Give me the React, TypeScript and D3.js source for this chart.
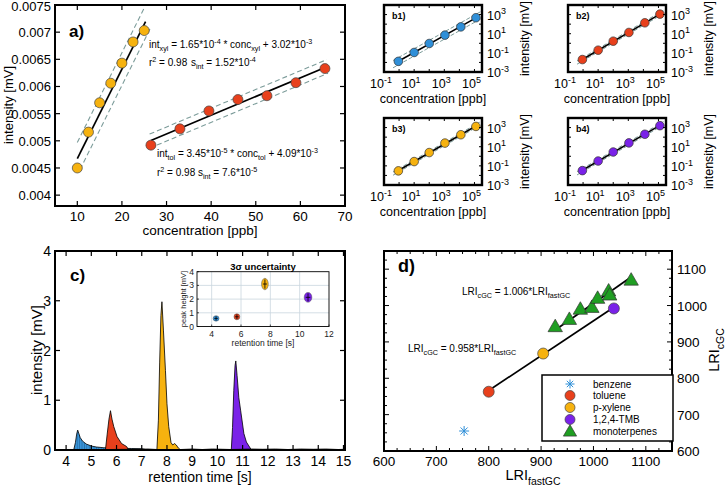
import React from 'react';
import * as d3 from 'd3';

const FONT = "'Liberation Sans', Arial, Helvetica, sans-serif";

const C_YEL = '#f6b20f';
const C_RED = '#e8401c';
const C_BLU = '#2f8fd8';
const C_PUR = '#7a22e8';
const C_GRN = '#1f9e22';
const C_DASH = '#7c9c9a';

// ---------- panel a ----------
const xylConc = [10, 12.5, 15, 17.5, 20, 22.5, 25];
const xylInt = [0.0045, 0.00516, 0.0057, 0.00606, 0.00643, 0.00682, 0.00703];
const tolConc = [26.5, 33, 39.5, 46, 52.5, 59, 65.5];
const tolInt = [0.00492, 0.00522, 0.00555, 0.00576, 0.00583, 0.00607, 0.00633];
const xylFit = { slope: 1.65e-4, icpt: 3.02e-3, band: 3.0e-4 };
const tolFit = { slope: 3.45e-5, icpt: 4.09e-3, band: 1.3e-4 };
const aXTicks = [10, 20, 30, 40, 50, 60, 70];
const aYTicks = [0.004, 0.0045, 0.005, 0.0055, 0.006, 0.0065, 0.007, 0.0075];
const aYTickLabels = ['0.004', '0.0045', '0.005', '0.0055', '0.006', '0.0065', '0.007', '0.0075'];

// ---------- panel b ----------
const bConc = [0.9, 10, 100, 1100, 12500, 125000];
const b1Int = [0.013, 0.11, 0.95, 7.1, 52, 470];
const b2Int = [0.02, 0.19, 1.66, 13.5, 138, 1120];
const b3Int = [0.03, 0.28, 2.45, 24, 178, 1320];
const b4Int = [0.032, 0.32, 2.8, 25, 200, 1580];
const bBands = [0.38, 0.17, 0.17, 0.17];
const bXTickExp = [-1, 1, 3, 5];
const bYTickExp = [-3, -1, 1, 3];

// ---------- panel c ----------
const benzT = [4.3, 4.37, 4.42, 4.46, 4.5, 4.56, 4.65, 4.8, 5.0, 5.2, 5.5, 5.8, 6.2, 6.6, 7.0, 7.25];
const benzI = [0, 0.15, 0.32, 0.4, 0.34, 0.25, 0.18, 0.12, 0.08, 0.06, 0.045, 0.04, 0.035, 0.03, 0.025, 0];
const tolT = [5.56, 5.63, 5.7, 5.76, 5.82, 5.89, 6.02, 6.2, 6.4, 6.48];
const tolI = [0, 0.32, 0.62, 0.79, 0.62, 0.47, 0.27, 0.13, 0.07, 0];
const xylT = [7.6, 7.66, 7.71, 7.76, 7.8, 7.86, 7.94, 8.0, 8.07, 8.16, 8.23, 8.3, 8.37, 8.45, 8.55];
const xylI = [0, 0.6, 1.75, 2.7, 2.98, 2.41, 1.6, 0.93, 0.47, 0.15, 0.1, 0.13, 0.1, 0.04, 0];
const tmbT = [10.55, 10.6, 10.65, 10.7, 10.73, 10.78, 10.85, 10.92, 11.05, 11.15, 11.25, 11.35];
const tmbI = [0, 0.45, 1.2, 1.7, 1.79, 1.5, 1.05, 0.8, 0.33, 0.16, 0.08, 0];
const baseT = [3.6, 4.3, 7.25, 7.6, 8.55, 9.0, 9.4, 9.8, 10.2, 10.55, 11.35, 11.8, 12.3, 12.8, 13.3, 13.8, 14.3, 14.8, 15.06];
const baseI = [0, 0, 0.02, 0.01, 0.01, 0.02, 0.01, 0.02, 0.015, 0.01, 0.02, 0.015, 0.02, 0.01, 0.02, 0.015, 0.02, 0.01, 0.015];
const cXTicks = [4, 5, 6, 7, 8, 9, 10, 11, 12, 13, 14, 15];
const cYTicks = [0, 1, 2, 3, 4];

const insetT = [4.3, 5.72, 7.63, 10.57];
const insetH = [0.59, 0.71, 3.1, 2.13];
const insetSigT = [0.2, 0.2, 0.23, 0.26];
const insetSigH = [0.2, 0.22, 0.42, 0.36];
const insetXTicks = [4, 6, 8, 10, 12];
const insetYTicks = [0, 1, 2, 3, 4];

// ---------- panel d ----------
const benzLRI = [753, 655];
const tolLRI = [800, 763];
const xylLRI = [904, 868];
const tmbLRI = [1039, 992];
const monoFast = [927, 954, 975, 997, 1008, 1029, 1031, 1072];
const monoCGC = [942, 962, 990, 995, 1020, 1040, 1029, 1070];
const fitMono = { slope: 1.006, from: 927, to: 1070 };
const fitArom = { slope: 0.958, from: 800, to: 1039 };
const dTicks = [600, 700, 800, 900, 1000, 1100];
const legendNames = ['benzene', 'toluene', 'p-xylene', '1,2,4-TMB', 'monoterpenes'];

type Part = [string, 'n' | 'sub' | 'sup'];

function Rich(props: { x: number; y: number; parts: Part[]; fs: number; anchor?: string; weight?: string; transform?: string }) {
  const { x, y, parts, fs, anchor = 'start', weight = 'normal', transform } = props;
  let off = 0;
  const spans = parts.map(([t, k], i) => {
    const target = k === 'sub' ? fs * 0.32 : k === 'sup' ? -fs * 0.42 : 0;
    const dy = target - off;
    off = target;
    const size = k === 'n' ? fs : fs * 0.72;
    return (
      <tspan key={i} dy={dy} fontSize={size}>
        {t}
      </tspan>
    );
  });
  return (
    <text x={x} y={y} fontSize={fs} textAnchor={anchor as any} fontFamily={FONT} fontWeight={weight} transform={transform} style={{ whiteSpace: 'pre' }}>
      {spans}
    </text>
  );
}

function linReg(xs: number[], ys: number[]) {
  const mx = d3.mean(xs)!;
  const my = d3.mean(ys)!;
  let num = 0, den = 0;
  xs.forEach((x, i) => { num += (x - mx) * (ys[i] - my); den += (x - mx) * (x - mx); });
  const slope = num / den;
  return { slope, icpt: my - slope * mx };
}

function PanelB({ x0, y0, ints, color, label, band, id }: { x0: number; y0: number; ints: number[]; color: string; label: string; band: number; id: string }) {
  const w = 98, h = 67;
  const x = d3.scaleLog().domain([0.1, Math.pow(10, 5.5)]).range([x0, x0 + w]);
  const y = d3.scaleLog().domain([1e-3, 1e4]).range([y0 + h, y0]);
  const lx = bConc.map(Math.log10);
  const ly = ints.map(Math.log10);
  const fit = linReg(lx, ly);
  const seg = (a: number, b: number, off: number) => {
    const pts: [number, number][] = [a, b].map((l) => [x(Math.pow(10, l)), y(Math.pow(10, fit.slope * l + fit.icpt + off))]);
    return d3.line()(pts)!;
  };
  const decX = d3.range(-1, 6);
  const decY = d3.range(-3, 5);
  return (
    <g>
      <defs>
        <clipPath id={id}>
          <rect x={x0} y={y0} width={w} height={h} />
        </clipPath>
      </defs>
      <g clipPath={`url(#${id})`}>
        <path d={seg(-0.4, 5.4, band)} stroke={C_DASH} strokeDasharray="4,2" fill="none" strokeWidth={1} />
        <path d={seg(-0.4, 5.4, -band)} stroke={C_DASH} strokeDasharray="4,2" fill="none" strokeWidth={1} />
        <path d={seg(lx[0], lx[lx.length - 1], 0)} stroke="#000" fill="none" strokeWidth={1.6} />
      </g>
      {bConc.map((c, i) => (
        <circle key={i} cx={x(c)} cy={y(ints[i])} r={4.3} fill={color} stroke="#333" strokeWidth={0.7} />
      ))}
      {decX.map((e) => (
        <g key={'tx' + e}>
          <line x1={x(Math.pow(10, e))} x2={x(Math.pow(10, e))} y1={y0 + h} y2={y0 + h - 3} stroke="#000" />
          <line x1={x(Math.pow(10, e))} x2={x(Math.pow(10, e))} y1={y0} y2={y0 + 3} stroke="#000" />
        </g>
      ))}
      {decY.map((e) => (
        <g key={'ty' + e}>
          <line x1={x0} x2={x0 + 3} y1={y(Math.pow(10, e))} y2={y(Math.pow(10, e))} stroke="#000" />
          <line x1={x0 + w} x2={x0 + w - 3} y1={y(Math.pow(10, e))} y2={y(Math.pow(10, e))} stroke="#000" />
        </g>
      ))}
      <rect x={x0} y={y0} width={w} height={h} fill="none" stroke="#000" strokeWidth={2.4} />
      <text x={x0 + 8} y={y0 + 14} fontSize={9} fontWeight="bold" fontFamily={FONT}>{label}</text>
      {bXTickExp.map((e) => (
        <Rich key={'lx' + e} x={x(Math.pow(10, e)) - 3} y={y0 + h + 16} fs={12.5} anchor="middle" parts={[['10', 'n'], [String(e), 'sup']]} />
      ))}
      {bYTickExp.map((e) => (
        <Rich key={'ly' + e} x={x0 + w + 5} y={y(Math.pow(10, e)) + 5} fs={12.5} parts={[['10', 'n'], [String(e), 'sup']]} />
      ))}
      <text x={x0 + w / 2} y={y0 + h + 31} fontSize={12.5} textAnchor="middle" fontFamily={FONT}>concentration [ppb]</text>
      <text transform={`translate(${x0 + w + 47},${y0 + h / 2}) rotate(-90)`} fontSize={12.5} textAnchor="middle" fontFamily={FONT}>intensity [mV]</text>
    </g>
  );
}

export default function App() {
  // panel a scales
  const xA = d3.scaleLinear().domain([5, 70]).range([55, 345]);
  const yA = d3.scaleLinear().domain([0.0038, 0.0075]).range([206, 5]);
  const fitSeg = (f: { slope: number; icpt: number }, a: number, b: number, off: number) =>
    d3.line()([[xA(a), yA(f.slope * a + f.icpt + off)], [xA(b), yA(f.slope * b + f.icpt + off)]])!;

  // panel c scales
  const xC = d3.scaleLinear().domain([3.56, 15.06]).range([55, 345]);
  const yC = d3.scaleLinear().domain([0, 4]).range([450, 251]);
  const area = (ts: number[], is: number[]) =>
    d3.area<number>().x((_, i) => xC(ts[i])).y0(yC(0)).y1((_, i) => yC(is[i]))(ts)!;
  const lineC = (ts: number[], is: number[]) =>
    d3.line<number>().x((_, i) => xC(ts[i])).y((_, i) => yC(is[i]))(ts)!;
  const xI = d3.scaleLinear().domain([3, 12]).range([197, 329]);
  const yI = d3.scaleLinear().domain([0, 4]).range([326.5, 271.7]);
  const insetCols = [C_BLU, C_RED, C_YEL, C_PUR];

  // panel d scales
  const xD = d3.scaleLinear().domain([600, 1150]).range([384, 672]);
  const yD = d3.scaleLinear().domain([600, 1150]).range([451, 251]);
  const tri = (cx: number, cy: number, s: number) =>
    `M${cx},${cy - s * 0.62} L${cx + s * 0.6},${cy + s * 0.42} L${cx - s * 0.6},${cy + s * 0.42} Z`;
  const star = (cx: number, cy: number, r: number, key: string) => (
    <g key={key} stroke={C_BLU} strokeWidth={1}>
      {[0, 45, 90, 135].map((a) => {
        const rad = (a * Math.PI) / 180;
        return <line key={a} x1={cx - r * Math.cos(rad)} y1={cy - r * Math.sin(rad)} x2={cx + r * Math.cos(rad)} y2={cy + r * Math.sin(rad)} />;
      })}
    </g>
  );
  const dMinor = d3.range(600, 1151, 25);

  return (
    <svg width={726} height={488} style={{ position: 'absolute', left: 0, top: 0, background: '#fff' }} fontFamily={FONT}>
      <defs>
        <pattern id="hatch" width={2.4} height={4} patternUnits="userSpaceOnUse">
          <rect width={2.4} height={4} fill="#3a95d8" />
          <line x1={0.3} y1={0} x2={0.3} y2={4} stroke="#1b5486" strokeWidth={0.6} />
        </pattern>
        <clipPath id="clipA"><rect x={55} y={5} width={290} height={201} /></clipPath>
      </defs>

      {/* ================= panel a ================= */}
      <g clipPath="url(#clipA)">
        <path d={fitSeg(xylFit, 10, 25.2, xylFit.band)} stroke={C_DASH} strokeDasharray="5,3" fill="none" strokeWidth={1.1} />
        <path d={fitSeg(xylFit, 10.6, 26.3, -xylFit.band)} stroke={C_DASH} strokeDasharray="5,3" fill="none" strokeWidth={1.1} />
        <path d={fitSeg(xylFit, 10, 25.3, 0)} stroke="#000" fill="none" strokeWidth={1.7} />
        <path d={fitSeg(tolFit, 26.2, 65.9, tolFit.band)} stroke={C_DASH} strokeDasharray="5,3" fill="none" strokeWidth={1.1} />
        <path d={fitSeg(tolFit, 26.2, 66.2, -tolFit.band)} stroke={C_DASH} strokeDasharray="5,3" fill="none" strokeWidth={1.1} />
        <path d={fitSeg(tolFit, 26.5, 65.8, 0)} stroke="#000" fill="none" strokeWidth={1.7} />
      </g>
      {xylConc.map((c, i) => (
        <circle key={'xa' + i} cx={xA(c)} cy={yA(xylInt[i])} r={5} fill={C_YEL} stroke="#444" strokeWidth={0.7} />
      ))}
      {tolConc.map((c, i) => (
        <circle key={'ta' + i} cx={xA(c)} cy={yA(tolInt[i])} r={5} fill={C_RED} stroke="#444" strokeWidth={0.7} />
      ))}
      {aXTicks.map((t) => (
        <g key={'ax' + t}>
          <line x1={xA(t)} x2={xA(t)} y1={206} y2={201} stroke="#000" strokeWidth={1.2} />
          <line x1={xA(t)} x2={xA(t)} y1={5} y2={10} stroke="#000" strokeWidth={1.2} />
          <text x={xA(t)} y={221} fontSize={13.5} textAnchor="middle">{t}</text>
        </g>
      ))}
      {aYTicks.map((t, i) => (
        <g key={'ay' + t}>
          <line x1={55} x2={60} y1={yA(t)} y2={yA(t)} stroke="#000" strokeWidth={1.2} />
          <line x1={345} x2={340} y1={yA(t)} y2={yA(t)} stroke="#000" strokeWidth={1.2} />
          <text x={51} y={Math.max(yA(t) + 5, 11)} fontSize={13} textAnchor="end">{aYTickLabels[i]}</text>
        </g>
      ))}
      <rect x={55} y={5} width={290} height={201} fill="none" stroke="#000" strokeWidth={2} />
      <text x={200} y={235} fontSize={13.5} textAnchor="middle">concentration [ppb]</text>
      <text transform="translate(12.5,105) rotate(-90)" fontSize={13} textAnchor="middle">intensity [mV]</text>
      <text x={69} y={37} fontSize={17} fontWeight="bold">a)</text>
      <Rich x={149} y={48} fs={10} parts={[['int', 'n'], ['xyl', 'sub'], [' = 1.65*10', 'n'], ['-4', 'sup'], [' * conc', 'n'], ['xyl', 'sub'], [' + 3.02*10', 'n'], ['-3', 'sup']]} />
      <Rich x={149} y={66} fs={10} parts={[['r', 'n'], ['2', 'sup'], [' = 0.98', 'n']]} />
      <Rich x={191} y={66} fs={10} parts={[['s', 'n'], ['int', 'sub'], [' = 1.52*10', 'n'], ['-4', 'sup']]} />
      <Rich x={157} y={157} fs={10} parts={[['int', 'n'], ['tol', 'sub'], [' = 3.45*10', 'n'], ['-5', 'sup'], [' * conc', 'n'], ['tol', 'sub'], [' + 4.09*10', 'n'], ['-3', 'sup']]} />
      <Rich x={157} y={176} fs={10} parts={[['r', 'n'], ['2', 'sup'], [' = 0.98', 'n']]} />
      <Rich x={198} y={176} fs={10} parts={[['s', 'n'], ['int', 'sub'], [' = 7.6*10', 'n'], ['-5', 'sup']]} />

      {/* ================= panel b ================= */}
      <PanelB x0={384} y0={5} ints={b1Int} color={C_BLU} label="b1)" band={bBands[0]} id="cb1" />
      <PanelB x0={568} y0={5} ints={b2Int} color={C_RED} label="b2)" band={bBands[1]} id="cb2" />
      <PanelB x0={384} y0={118} ints={b3Int} color={C_YEL} label="b3)" band={bBands[2]} id="cb3" />
      <PanelB x0={568} y0={118} ints={b4Int} color={C_PUR} label="b4)" band={bBands[3]} id="cb4" />

      {/* ================= panel c ================= */}
      <path d={area(benzT, benzI)} fill="url(#hatch)" stroke="#000" strokeWidth={0.8} />
      <path d={area(tolT, tolI)} fill={C_RED} stroke="#000" strokeWidth={0.8} />
      <path d={area(xylT, xylI)} fill={C_YEL} stroke="#000" strokeWidth={0.8} />
      <path d={area(tmbT, tmbI)} fill={C_PUR} stroke="#000" strokeWidth={0.8} />
      <path d={lineC(baseT, baseI)} fill="none" stroke="#000" strokeWidth={0.8} />
      {cXTicks.map((t) => (
        <g key={'cx' + t}>
          <line x1={xC(t)} x2={xC(t)} y1={450} y2={445} stroke="#000" strokeWidth={1.2} />
          <line x1={xC(t)} x2={xC(t)} y1={251} y2={256} stroke="#000" strokeWidth={1.2} />
          <text x={xC(t)} y={466} fontSize={14} textAnchor="middle">{t}</text>
        </g>
      ))}
      {cYTicks.map((t) => (
        <g key={'cy' + t}>
          <line x1={55} x2={60} y1={yC(t)} y2={yC(t)} stroke="#000" strokeWidth={1.2} />
          <line x1={345} x2={340} y1={yC(t)} y2={yC(t)} stroke="#000" strokeWidth={1.2} />
          <text x={51} y={yC(t) + 5} fontSize={14} textAnchor="end">{t}</text>
        </g>
      ))}
      <rect x={55} y={251} width={290} height={199} fill="none" stroke="#000" strokeWidth={2} />
      <text x={200} y={482} fontSize={14} textAnchor="middle">retention time [s]</text>
      <text transform="translate(42,350) rotate(-90)" fontSize={15} textAnchor="middle">intensity [mV]</text>
      <text x={70} y={281} fontSize={17} fontWeight="bold">c)</text>

      {/* inset */}
      <rect x={197} y={271.7} width={132} height={54.8} fill="#fff" />
      {insetXTicks.slice(0, 4).map((t) => (
        <line key={'gx' + t} x1={xI(t)} x2={xI(t)} y1={271.7} y2={326.5} stroke="#c9d6de" strokeWidth={0.8} />
      ))}
      {[1, 2, 3].map((t) => (
        <line key={'gy' + t} x1={197} x2={329} y1={yI(t)} y2={yI(t)} stroke="#c9d6de" strokeWidth={0.8} />
      ))}
      {insetT.map((t, i) => {
        const cx = xI(t), cy = yI(insetH[i]);
        const rx = xI(t + insetSigT[i]) - cx;
        const ry = cy - yI(insetH[i] + insetSigH[i]);
        return (
          <g key={'im' + i}>
            <ellipse cx={cx} cy={cy} rx={rx} ry={ry} fill={insetCols[i]} stroke="#555" strokeWidth={0.5} />
            <line x1={cx - rx * 0.6} x2={cx + rx * 0.6} y1={cy} y2={cy} stroke="#000" strokeWidth={0.8} />
            <line x1={cx} x2={cx} y1={cy - ry * 0.8} y2={cy + ry * 0.8} stroke="#000" strokeWidth={0.8} />
          </g>
        );
      })}
      <rect x={197} y={271.7} width={132} height={54.8} fill="none" stroke="#000" strokeWidth={0.9} />
      {insetXTicks.map((t) => (
        <g key={'ix' + t}>
          <line x1={xI(t)} x2={xI(t)} y1={326.5} y2={324.5} stroke="#000" strokeWidth={0.7} />
          <text x={xI(t)} y={337} fontSize={8.5} textAnchor="middle" fill="#222">{t}</text>
        </g>
      ))}
      {insetYTicks.map((t) => (
        <g key={'iy' + t}>
          <line x1={197} x2={199} y1={yI(t)} y2={yI(t)} stroke="#000" strokeWidth={0.7} />
          <text x={194} y={yI(t) + 3} fontSize={8.5} textAnchor="end" fill="#222">{t}</text>
        </g>
      ))}
      <text x={263} y={346} fontSize={8.5} textAnchor="middle" fill="#222">retention time [s]</text>
      <text transform="translate(186,299) rotate(-90)" fontSize={7.5} textAnchor="middle" fill="#222">peak height [mV]</text>
      <text x={263} y={270} fontSize={9.5} fontWeight="bold" textAnchor="middle">3σ uncertainty</text>

      {/* ================= panel d ================= */}
      <path d={d3.line()([[xD(fitMono.from), yD(fitMono.slope * fitMono.from)], [xD(fitMono.to), yD(fitMono.slope * fitMono.to)]])!} stroke="#000" strokeWidth={1.7} fill="none" />
      <path d={d3.line()([[xD(fitArom.from), yD(fitArom.slope * fitArom.from)], [xD(fitArom.to), yD(fitArom.slope * fitArom.to)]])!} stroke="#000" strokeWidth={1.7} fill="none" />
      {star(xD(benzLRI[0]), yD(benzLRI[1]), 5, 'bz')}
      <circle cx={xD(tolLRI[0])} cy={yD(tolLRI[1])} r={5.5} fill={C_RED} stroke="#444" strokeWidth={0.7} />
      <circle cx={xD(xylLRI[0])} cy={yD(xylLRI[1])} r={5.5} fill={C_YEL} stroke="#444" strokeWidth={0.7} />
      <circle cx={xD(tmbLRI[0])} cy={yD(tmbLRI[1])} r={5.5} fill={C_PUR} stroke="#444" strokeWidth={0.7} />
      {monoFast.map((x, i) => (
        <path key={'mt' + i} d={tri(xD(x), yD(monoCGC[i]), 12)} fill={C_GRN} stroke="#333" strokeWidth={0.7} />
      ))}
      {dMinor.map((t) => {
        const major = t % 100 === 0;
        const L = major ? 5 : 3;
        return (
          <g key={'dm' + t}>
            <line x1={xD(t)} x2={xD(t)} y1={451} y2={451 - L} stroke="#000" />
            <line x1={xD(t)} x2={xD(t)} y1={251} y2={251 + L} stroke="#000" />
            <line x1={384} x2={384 + L} y1={yD(t)} y2={yD(t)} stroke="#000" />
            <line x1={672} x2={672 - L} y1={yD(t)} y2={yD(t)} stroke="#000" />
          </g>
        );
      })}
      {dTicks.map((t) => (
        <g key={'dt' + t}>
          <text x={xD(t)} y={466} fontSize={13.5} textAnchor="middle">{t}</text>
          <text x={677} y={yD(t) + 5} fontSize={13.5}>{t}</text>
        </g>
      ))}
      <rect x={384} y={251} width={288} height={200} fill="none" stroke="#000" strokeWidth={2} />
      <text x={398} y={272} fontSize={18} fontWeight="bold">d)</text>
      <Rich x={462} y={295} fs={10} parts={[['LRI', 'n'], ['cGC', 'sub'], [' = 1.006*LRI', 'n'], ['fastGC', 'sub']]} />
      <Rich x={408} y={352} fs={10} parts={[['LRI', 'n'], ['cGC', 'sub'], [' = 0.958*LRI', 'n'], ['fastGC', 'sub']]} />
      <Rich x={533} y={480} fs={14.5} anchor="middle" parts={[['LRI', 'n'], ['fastGC', 'sub']]} />
      <Rich x={0} y={0} fs={14.5} anchor="middle" transform="translate(719,350) rotate(-90)" parts={[['LRI', 'n'], ['cGC', 'sub']]} />

      {/* legend */}
      <rect x={542} y={375} width={131} height={66} fill="#fff" stroke="#000" strokeWidth={1.5} />
      {star(570, 384, 4.5, 'lbz')}
      <circle cx={570} cy={395.5} r={5} fill={C_RED} stroke="#444" strokeWidth={0.7} />
      <circle cx={570} cy={407.5} r={5} fill={C_YEL} stroke="#444" strokeWidth={0.7} />
      <circle cx={570} cy={419.5} r={5} fill={C_PUR} stroke="#444" strokeWidth={0.7} />
      <path d={tri(570, 431.5, 11)} fill={C_GRN} stroke="#333" strokeWidth={0.7} />
      {legendNames.map((n, i) => (
        <text key={n} x={593} y={387.5 + i * 11.9} fontSize={10}>{n}</text>
      ))}
    </svg>
  );
}
